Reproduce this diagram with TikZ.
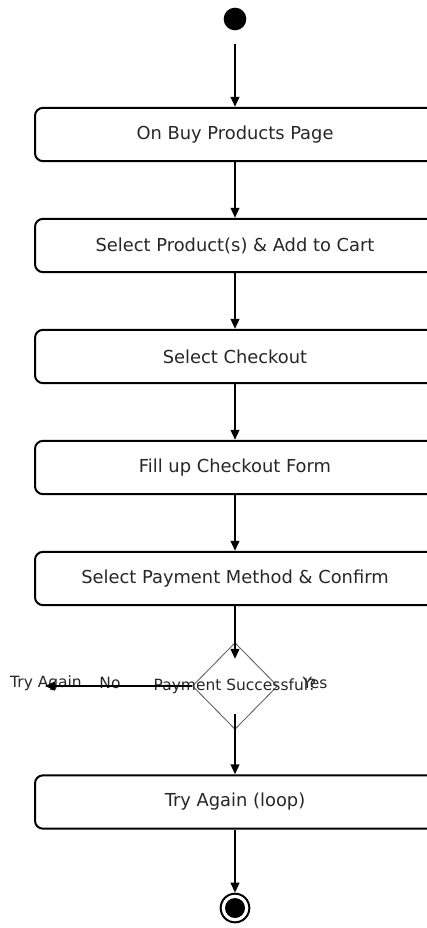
\documentclass[tikz,border=0pt]{standalone}
\usepackage{fontspec}
\setmainfont{DejaVu Sans}
\usetikzlibrary{shapes.geometric,arrows.meta}

\begin{document}
\begin{tikzpicture}[x=0.75pt,y=-0.75pt,
    act/.style={draw,line width=1.5pt,rounded corners=6pt,minimum width=300pt,minimum height=40pt,font=\fontsize{13.4}{16}\selectfont,text=black!85},
    flow/.style={-{Triangle[length=7.5pt,width=6.5pt]},line width=1.5pt,draw},
    lbl/.style={font=\fontsize{11.6}{14}\selectfont,text=black!85}]
    \useasboundingbox (0,0) rectangle (427,928);

    \node[circle,fill,minimum size=17pt,inner sep=0] (init) at (235,19) {};
    \node[act] (buy) at (235,134.5) {On Buy Products Page};
    \node[act] (cart) at (235,245.5) {Select Product(s) \& Add to Cart};
    \node[act] (checkout) at (235,356.5) {Select Checkout};
    \node[act] (form) at (235,467.5) {Fill up Checkout Form};
    \node[act] (pay) at (235,578.5) {Select Payment Method \& Confirm};
    \node[diamond,draw=black!60,line width=0.7pt,minimum width=64pt,minimum height=65pt,inner sep=0] (check) at (235,686) {};
    \node[lbl] (q) at (235,686) {Payment Successful?};
    \node[lbl] (tryagain) at (46,683) {Try Again};
    \node[lbl] (no) at (110,683) {No};
    \node[lbl] (yes) at (315,683) {Yes};
    \coordinate (noend) at (45,686);
    \node[act] (again) at (235,802) {Try Again (loop)};
    \node[circle,draw,line width=1.5pt,minimum size=21.5pt,inner sep=0] (final) at (235,908) {};
    \node[circle,fill,minimum size=15pt,inner sep=0] (finaldot) at (final) {};

    \path[flow,shorten <=10pt] (init) -- (buy);
    \path[flow] (buy) -- (cart);
    \path[flow] (cart) -- (checkout);
    \path[flow] (checkout) -- (form);
    \path[flow] (form) -- (pay);
    \path[flow,shorten >=-12.5pt] (pay) -- (check);
    \path[flow] (check.west) -- (noend);
    \path[flow,shorten <=-12pt] (check) -- (again);
    \path[flow] (again) -- (final);

\end{tikzpicture}
\end{document}
